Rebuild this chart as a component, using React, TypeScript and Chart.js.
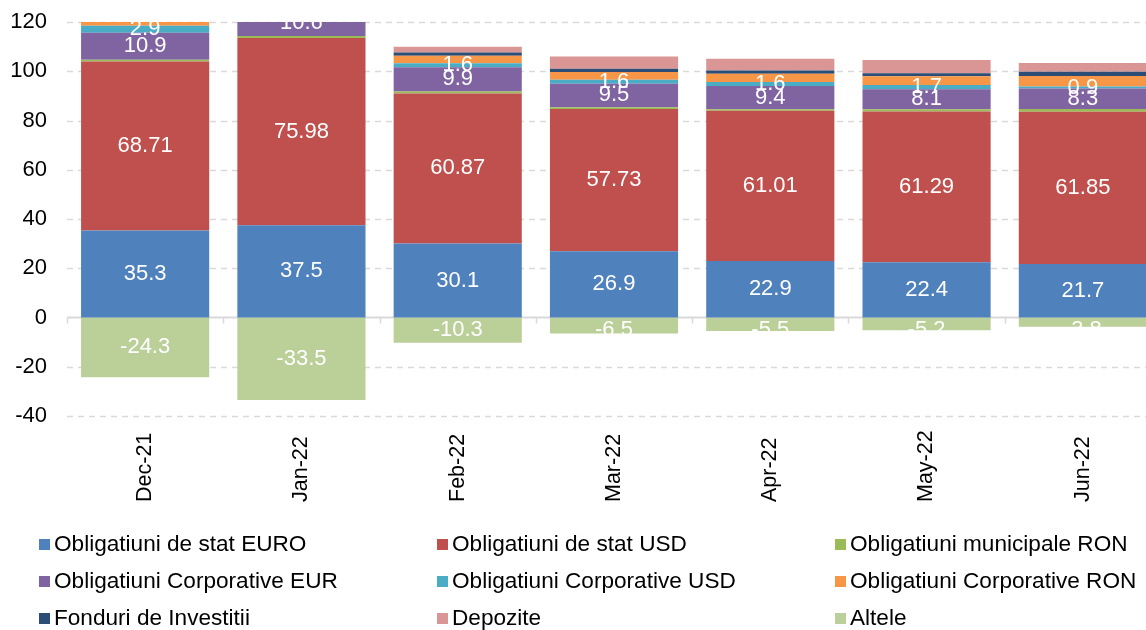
import React, { useEffect, useRef } from "react";
import { Chart, registerables } from "chart.js";

Chart.register(...registerables);

const categories = ["Dec-21", "Jan-22", "Feb-22", "Mar-22", "Apr-22", "May-22", "Jun-22"];

const seriesNames = [
  "Obligatiuni de stat EURO",
  "Obligatiuni de stat USD",
  "Obligatiuni municipale RON",
  "Obligatiuni Corporative EUR",
  "Obligatiuni Corporative USD",
  "Obligatiuni Corporative RON",
  "Fonduri de Investitii",
  "Depozite",
  "Altele",
];

const statEuro = [35.3, 37.5, 30.1, 26.9, 22.9, 22.4, 21.7];
const statUsd = [68.71, 75.98, 60.87, 57.73, 61.01, 61.29, 61.85];
const municipalRon = [0.7, 0.8, 0.8, 0.8, 0.7, 0.9, 1.1];
const corpEur = [10.9, 10.6, 9.9, 9.5, 9.4, 8.1, 8.3];
const corpUsd = [2.9, 2.4, 1.6, 1.6, 1.6, 1.7, 0.9];
const corpRon = [2.3, 2.6, 3.0, 3.2, 3.4, 3.6, 4.2];
const fonduri = [1.2, 1.3, 1.3, 1.3, 1.3, 1.2, 1.7];
const depozite = [1.5, 1.2, 2.4, 5.0, 4.8, 5.4, 3.6];
const altele = [-24.3, -33.5, -10.3, -6.5, -5.5, -5.2, -3.8];

const seriesValues = [statEuro, statUsd, municipalRon, corpEur, corpUsd, corpRon, fonduri, depozite, altele];
const seriesColors = ["#4F81BD", "#C0504D", "#9BBB59", "#8064A2", "#4BACC6", "#F79646", "#2C4D75", "#D99694", "#BBCF98"];
const labelledSeries = [true, true, false, true, true, false, false, false, true];

const yMin = -40;
const yMax = 120;
const yStep = 20;

const FONT = '"Liberation Sans", Arial, sans-serif';

const customPlugin = {
  id: "customDecor",
  beforeDatasetsDraw(chart: any) {
    const { ctx, chartArea, scales } = chart;
    const y = scales.y;
    ctx.save();
    ctx.strokeStyle = "#D9D9D9";
    ctx.lineWidth = 1.5;
    ctx.setLineDash([6, 5]);
    for (let v = yMin; v <= yMax; v += yStep) {
      if (v === 0) continue;
      const py = Math.round(y.getPixelForValue(v)) + 0.5;
      ctx.beginPath();
      ctx.moveTo(chartArea.left, py);
      ctx.lineTo(chartArea.right, py);
      ctx.stroke();
    }
    ctx.setLineDash([]);
    const zy = y.getPixelForValue(0);
    ctx.lineWidth = 2;
    ctx.beginPath();
    ctx.moveTo(chartArea.left, zy);
    ctx.lineTo(chartArea.right, zy);
    ctx.stroke();
    ctx.lineWidth = 1.5;
    const n = categories.length;
    const w = (chartArea.right - chartArea.left) / n;
    for (let i = 0; i <= n; i++) {
      const px = Math.round(chartArea.left + i * w) + 0.5;
      ctx.beginPath();
      ctx.moveTo(px, zy);
      ctx.lineTo(px, zy + 6);
      ctx.stroke();
    }
    ctx.restore();
  },
  afterDatasetsDraw(chart: any) {
    const { ctx, chartArea, scales } = chart;
    const zy = scales.y.getPixelForValue(0);
    ctx.save();
    ctx.beginPath();
    ctx.rect(chartArea.left, chartArea.top, chartArea.right - chartArea.left, chartArea.bottom - chartArea.top);
    ctx.clip();
    ctx.fillStyle = "#FFFFFF";
    ctx.font = `22px ${FONT}`;
    ctx.textAlign = "center";
    ctx.textBaseline = "middle";
    chart.data.datasets.forEach((ds: any, di: number) => {
      if (!labelledSeries[di]) return;
      const meta = chart.getDatasetMeta(di);
      meta.data.forEach((el: any, i: number) => {
        const v = ds.data[i];
        let cy = (el.y + el.base) / 2;
        if (v < 0) cy = Math.max(cy, zy + 12);
        ctx.fillText(String(v), el.x, cy);
      });
    });
    ctx.restore();
  },
  afterDraw(chart: any) {
    const { ctx, scales } = chart;
    const x = scales.x;
    ctx.save();
    ctx.fillStyle = "#000000";
    ctx.font = `21.5px ${FONT}`;
    ctx.textAlign = "left";
    ctx.textBaseline = "middle";
    categories.forEach((c, i) => {
      const px = x.getPixelForValue(i);
      ctx.save();
      ctx.translate(px, 502);
      ctx.rotate(-Math.PI / 2);
      ctx.fillText(c, 0, 0);
      ctx.restore();
    });
    const colX = [39, 437, 835];
    const rowY = [545, 582, 619];
    ctx.font = `22.6px ${FONT}`;
    chart.data.datasets.forEach((ds: any, di: number) => {
      const cx = colX[di % 3];
      const cy = rowY[Math.floor(di / 3)];
      ctx.fillStyle = ds.backgroundColor;
      ctx.fillRect(cx, cy - 6, 11, 11);
      ctx.fillStyle = "#000000";
      ctx.fillText(ds.label, cx + 15, cy);
    });
    ctx.restore();
  },
};

export default function App() {
  const canvasRef = useRef<HTMLCanvasElement | null>(null);

  useEffect(() => {
    if (!canvasRef.current) return;
    const chart = new Chart(canvasRef.current, {
      type: "bar",
      data: {
        labels: categories,
        datasets: seriesNames.map((name, i) => ({
          label: name,
          data: seriesValues[i],
          backgroundColor: seriesColors[i],
          borderWidth: 0,
          categoryPercentage: 1,
          barPercentage: 0.82,
        })),
      },
      options: {
        responsive: false,
        animation: false,
        layout: { padding: { top: 22, right: 19, left: 0, bottom: 0 } },
        plugins: {
          legend: { display: false },
          tooltip: { enabled: false },
        },
        scales: {
          x: {
            stacked: true,
            grid: { display: false },
            border: { display: false },
            ticks: { display: false },
            afterFit: (s: any) => {
              s.height = 214;
              s.paddingLeft = 0;
              s.paddingRight = 0;
            },
          },
          y: {
            stacked: true,
            min: yMin,
            max: yMax,
            grid: { display: false, drawTicks: false },
            border: { display: false },
            ticks: {
              stepSize: yStep,
              padding: 20,
              color: "#000000",
              font: { family: FONT, size: 22 },
            },
            afterFit: (s: any) => {
              s.width = 67;
              s.paddingTop = 0;
              s.paddingBottom = 0;
            },
          },
        },
      },
      plugins: [customPlugin],
    });
    return () => chart.destroy();
  }, []);

  return (
    <div style={{ position: "fixed", left: 0, top: 0, width: 1146, height: 630, overflow: "hidden", background: "#fff" }}>
      <canvas ref={canvasRef} width={1180} height={630} style={{ display: "block" }} />
    </div>
  );
}
